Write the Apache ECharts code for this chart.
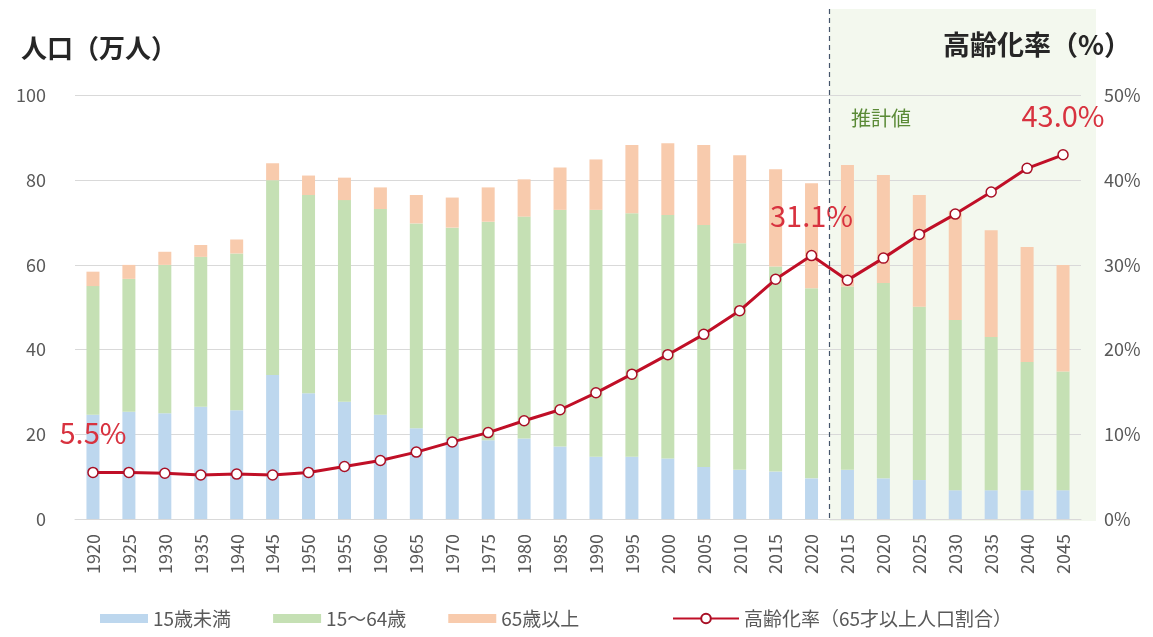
<!DOCTYPE html>
<html>
<head>
<meta charset="utf-8">
<script src="https://cdn.jsdelivr.net/npm/echarts@6/dist/echarts.min.js"></script>
<style>
html,body{margin:0;padding:0;background:#fff;}
#c{width:1153px;height:637px;}
</style>
</head>
<body>
<div id="c"></div>
<script>
const years = ['1920','1925','1930','1935','1940','1945','1950','1955','1960','1965','1970','1975','1980','1985','1990','1995','2000','2005','2010','2015','2020','2015','2020','2025','2030','2035','2040','2045'];
const under15 = [24.6,25.3,25.0,26.5,25.7,34.0,29.7,27.7,24.6,21.4,19.0,18.6,19.0,17.1,14.7,14.7,14.3,12.3,11.6,11.2,9.6,11.6,9.6,9.2,6.8,6.8,6.8,6.8];
const working = [30.4,31.4,35.0,35.4,37.0,46.0,46.8,47.6,48.6,48.4,49.8,51.6,52.4,55.9,58.3,57.5,57.5,57.1,53.5,48.4,44.9,43.3,46.1,40.9,40.2,36.2,30.3,28.0];
const elderly = [3.4,3.3,3.1,2.8,3.3,4.0,4.6,5.3,5.1,6.7,7.1,8.1,8.8,10.0,11.9,16.1,16.9,18.9,20.8,23.0,24.8,28.7,25.5,26.4,25.8,25.2,27.1,25.2];
const agingRate = [5.5,5.5,5.4,5.2,5.3,5.2,5.5,6.2,6.9,7.9,9.1,10.2,11.6,12.9,14.9,17.1,19.4,21.8,24.6,28.3,31.1,28.2,30.8,33.6,36.0,38.6,41.4,43.0];
const rateLabels = {0:'5.5%', 20:'31.1%', 27:'43.0%'};
const leftTicks = [0,20,40,60,80,100];
const rightTicks = [0,10,20,30,40,50];
const seriesNames = ['15歳未満','15～64歳','65歳以上','高齢化率（65才以上人口割合）'];
const lastActualIndex = 20;

const FONT = '"Noto Sans CJK JP", "Noto Sans", sans-serif';
const chart = echarts.init(document.getElementById('c'), null, {renderer:'canvas'});

const option = {
  animation:false,
  textStyle:{fontFamily:FONT},
  grid:{left:75, right:72, top:95.5, bottom:118},
  legend:[{
    data:seriesNames.slice(0,3),
    left:95, top:604,
    icon:'rect', itemWidth:48, itemHeight:9, itemGap:42,
    textStyle:{fontFamily:FONT, fontSize:19, color:'#595959'}
  },{
    data:[seriesNames[3]],
    left:667, top:604,
    itemWidth:66, itemHeight:12,
    textStyle:{fontFamily:FONT, fontSize:19, color:'#595959'}
  }],
  xAxis:{
    type:'category', data:years,
    axisLine:{show:true, lineStyle:{color:'#d9d9d9'}},
    axisTick:{show:false},
    axisLabel:{rotate:90, fontSize:18, color:'#595959', margin:15, fontFamily:FONT, interval:0}
  },
  yAxis:[{
    type:'value', min:leftTicks[0], max:leftTicks[leftTicks.length-1], interval:20,
    axisLine:{show:false}, axisTick:{show:false},
    axisLabel:{fontSize:18, color:'#595959', margin:29, fontFamily:FONT},
    splitLine:{lineStyle:{color:'#d9d9d9', width:1}}
  },{
    type:'value', min:rightTicks[0], max:rightTicks[rightTicks.length-1], interval:10,
    axisLine:{show:false}, axisTick:{show:false},
    axisLabel:{fontSize:18, color:'#595959', margin:23, fontFamily:FONT, formatter:'{value}%'},
    splitLine:{show:false}
  }],
  series:[{
    name:seriesNames[0], type:'bar', stack:'pop', barWidth:13, data:under15,
    itemStyle:{color:'#bdd7ee'}
  },{
    name:seriesNames[1], type:'bar', stack:'pop', barWidth:13, data:working,
    itemStyle:{color:'#c5e0b4'}
  },{
    name:seriesNames[2], type:'bar', stack:'pop', barWidth:13, data:elderly,
    itemStyle:{color:'#f8cbad'}
  },{
    name:seriesNames[3], type:'line', yAxisIndex:1, data:agingRate,
    symbol:'circle', symbolSize:10, z:5,
    lineStyle:{color:'#c00f27', width:3},
    itemStyle:{color:'#ffffff', borderColor:'#a80f25', borderWidth:1.5},
    label:{
      show:true, position:'top', distance:19,
      fontFamily:FONT, fontSize:29, color:'#d8323f',
      formatter:function(p){ return rateLabels[p.dataIndex] || ''; }
    }
  }]
};
chart.setOption(option);

const xa = chart.convertToPixel({xAxisIndex:0}, lastActualIndex);
const xb = chart.convertToPixel({xAxisIndex:0}, lastActualIndex+1);
const mid = (xa+xb)/2;
const y0 = chart.convertToPixel({yAxisIndex:0}, 0);
chart.setOption({
  graphic:[
    {type:'rect', z:-10, silent:true, shape:{x:mid, y:9, width:1096-mid, height:y0+2-9}, style:{fill:'#f3f8ee'}},
    {type:'line', z:10, silent:true, shape:{x1:mid, y1:9, x2:mid, y2:y0+2}, style:{stroke:'#44546a', lineWidth:1.2, lineDash:[5,4]}},
    {type:'text', left:21, top:35, style:{text:'人口（万人）', font:'bold 26px '+FONT, fill:'#262626'}},
    {type:'text', right:22, top:31, style:{text:'高齢化率（%）', font:'bold 27px '+FONT, fill:'#262626'}},
    {type:'text', left:851, top:108, style:{text:'推計値', font:'20px '+FONT, fill:'#5a8a36'}}
  ]
});
</script>
</body>
</html>
